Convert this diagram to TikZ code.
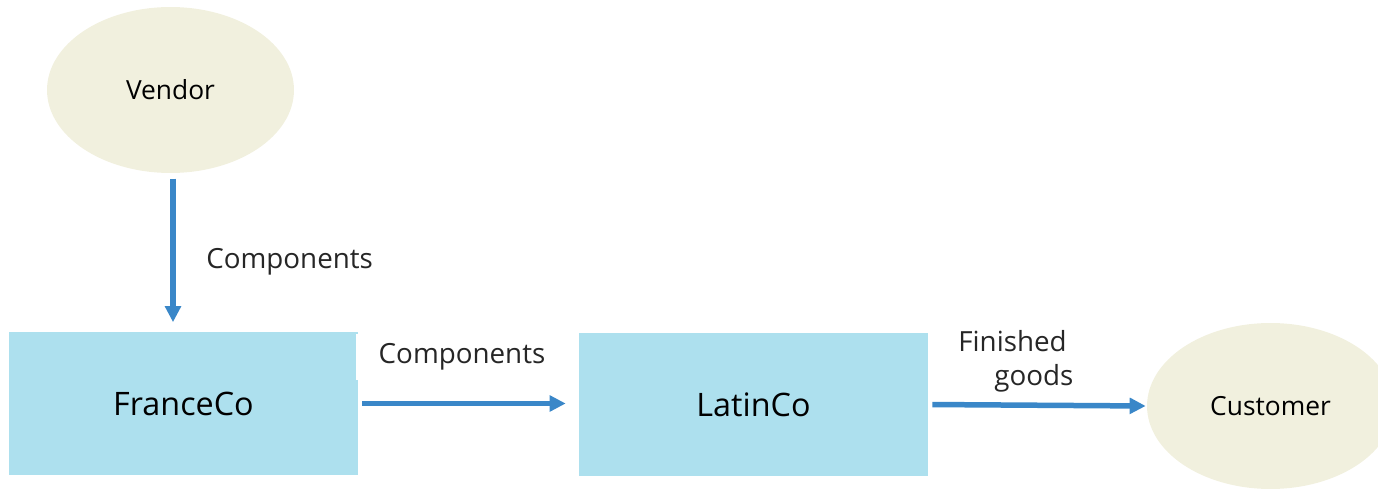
\documentclass[tikz,border=0pt]{standalone}
\usepackage{fontspec}
\setmainfont{Open Sans}
\usetikzlibrary{arrows.meta}
\usetikzlibrary{shapes.geometric}
\usetikzlibrary{calc,positioning}

\definecolor{boxblue}{HTML}{ADE0EE}
\definecolor{partycream}{HTML}{F1F0DE}
\definecolor{flowblue}{HTML}{3A87C8}

\begin{document}
\begin{tikzpicture}[x=0.02cm,y=-0.02cm,>={Triangle[length=0.32cm,width=0.31cm]},
    company/.style={fill=boxblue,minimum width=6.98cm,minimum height=2.88cm,inner sep=0pt,font=\fontsize{18.4}{22}\selectfont},
    party/.style={ellipse,fill=partycream,minimum width=4.94cm,minimum height=3.32cm,inner sep=0pt,font=\fontsize{15}{18}\selectfont},
    flow/.style={->,draw=flowblue,line width=0.11cm},
    flowlabel/.style={text=black!85,font=\fontsize{15.8}{18}\selectfont,inner sep=0pt}]

    \useasboundingbox (0,0) rectangle (1378,489);
    \clip (0,0) rectangle (1378,489);

    \node[party] (vendor) at (170.5,90) {Vendor};
    \node[company] (france) at (183.5,403.5) {FranceCo};
    \node[company] (latin) at (753.5,404.5) {LatinCo};
    \node[party] (customer) at (1270.5,406) {Customer};

    \draw[flow,shorten <=3pt,shorten >=0.18cm] ($(vendor.south)+(2.5,0)$) -- ($(vendor.south |- france.north)+(2.5,0)$);
    \draw[flow,shorten <=0.08cm,shorten >=0.26cm] (france.east) -- (france.east -| latin.west);
    \draw[flow,shorten <=0.08cm,shorten >=0.02cm] (latin.east) -- (customer.west);

    \node[flowlabel,anchor=west] (vlabel) at (206,262) {Components};
    \node[flowlabel,fill=white,inner xsep=0.46cm,minimum height=0.94cm] (hlabel) at (462,357) {\raisebox{-0.08cm}{Components}};
    \node[flowlabel,anchor=west] (finished) at (958,341) {Finished};
    \node[flowlabel,anchor=west] (goods) at (994,378) {goods};

\end{tikzpicture}
\end{document}
